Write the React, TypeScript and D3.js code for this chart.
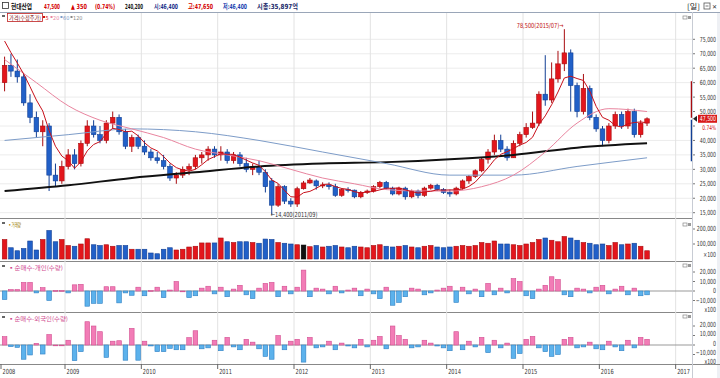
import React, { useEffect } from 'react';
import * as d3 from 'd3';

// ---------- DATA ----------
const startYear = 2008;
const startMonth = 3; // first candle: 2008-03, monthly candles
const years = [2008, 2009, 2010, 2011, 2012, 2013, 2014, 2015, 2016, 2017];

const opens = [60000, 66000, 64000, 62000, 53000, 48000, 43000, 45000, 28000, 26000,
  31000, 35000, 32000, 39000, 45000, 42000, 40000, 46000, 48000, 43000, 38000, 41000,
  38000, 36000, 34000, 33000, 31000, 27000, 28000, 30000, 31000, 34000, 35000, 37000,
  35000, 36000, 33000, 35000, 32000, 30000, 31000, 29000, 26000, 17600, 24000, 19000,
  18000, 23300, 25300, 26000, 24300, 24600, 24000, 21000, 23000, 22800, 20500, 22000,
  22500, 24000, 25500, 23500, 21500, 23500, 20500, 22500, 21000, 23500, 24500, 23000,
  22000, 21500, 23500, 26000, 27500, 29500, 33500, 36000, 40000, 37000, 34000, 39000,
  42000, 44500, 46000, 56000, 54000, 61300, 66500, 70300, 59000, 50000, 58000, 48000,
  44000, 40000, 45000, 49000, 45000, 50000, 42000, 46000];
const highs = [69000, 70000, 68000, 63000, 56000, 50000, 47000, 46000, 32000, 33000,
  37000, 37000, 40000, 47000, 47000, 45000, 47000, 50000, 49000, 44000, 42000, 42000,
  40000, 37000, 36000, 35000, 32000, 29000, 31000, 32000, 35000, 36000, 38000, 38000,
  38000, 37000, 36000, 36000, 34000, 32000, 33000, 30000, 27000, 25000, 24500, 20000,
  24000, 26000, 27000, 26500, 25500, 25500, 25000, 23500, 23800, 23000, 22500, 23000,
  24500, 26000, 26000, 24000, 24000, 24000, 23000, 23000, 24000, 25000, 25000, 23500,
  23000, 24000, 26500, 28000, 30000, 34000, 37000, 42000, 42000, 38000, 40000, 43000,
  46000, 50000, 57000, 69500, 67000, 71000, 78500, 71500, 60000, 63000, 59000, 49000,
  45000, 46000, 50000, 50000, 51000, 51000, 47000, 48000];
const lows = [57000, 62000, 60000, 52000, 46000, 41000, 38000, 22500, 24000, 25000,
  30000, 30000, 31000, 38000, 41000, 39000, 39000, 44000, 42000, 37000, 36000, 37000,
  35000, 33000, 32000, 30000, 26000, 25000, 27000, 28000, 30000, 32000, 33000, 34000,
  33000, 32000, 32000, 31000, 29000, 28000, 28000, 22000, 14400, 17000, 18000, 17000,
  17000, 23000, 25000, 23000, 23500, 23000, 20500, 20500, 22000, 20000, 20000, 21500,
  22000, 23500, 23000, 21000, 21000, 19500, 20000, 20000, 20500, 23000, 22500, 21500,
  20500, 21000, 23000, 25000, 27000, 29000, 32000, 35000, 36000, 33000, 34000, 38000,
  41000, 44000, 45000, 52000, 53000, 60000, 64000, 50000, 48000, 49000, 47000, 43000,
  38000, 39000, 44000, 44000, 44000, 41000, 41000, 45000];
const closes = [66000, 64000, 62000, 53000, 48000, 43000, 45000, 28000, 26000, 31000,
  35000, 32000, 39000, 45000, 42000, 40000, 46000, 48000, 43000, 38000, 41000, 38000,
  36000, 34000, 33000, 31000, 27000, 28000, 30000, 31000, 34000, 35000, 37000, 35000,
  36000, 33000, 35000, 32000, 30000, 31000, 29000, 24000, 17600, 24000, 19000, 18000,
  23300, 25300, 26300, 24300, 24600, 24000, 21000, 23000, 22800, 20500, 22000, 22500,
  24000, 25500, 23500, 21500, 23500, 20500, 22500, 21000, 23500, 24500, 23000, 22000,
  21500, 23500, 26000, 27500, 29500, 33500, 36000, 40000, 37000, 34000, 39000, 42000,
  44500, 46000, 56000, 54000, 61300, 66500, 70300, 59000, 50000, 58000, 48000, 44000,
  40000, 45000, 49000, 45000, 50000, 42000, 46000, 47500];
const volumes = [130000, 75000, 55000, 70000, 120000, 60000, 130000, 190000, 115000, 130000,
  90000, 85000, 100000, 135000, 95000, 90000, 95000, 85000, 90000, 90000, 65000, 65000,
  65000, 40000, 35000, 65000, 75000, 60000, 65000, 80000, 85000, 107000, 107000, 107000,
  140000, 115000, 110000, 115000, 115000, 110000, 105000, 133000, 130000, 110000, 105000, 100000,
  95000, 93000, 82000, 90000, 80000, 85000, 90000, 80000, 75000, 85000, 80000, 75000,
  90000, 95000, 85000, 80000, 85000, 90000, 80000, 75000, 85000, 90000, 80000, 75000,
  80000, 85000, 90000, 85000, 90000, 110000, 105000, 120000, 100000, 100000, 95000, 90000,
  100000, 110000, 130000, 140000, 125000, 115000, 150000, 140000, 125000, 110000, 105000, 95000,
  100000, 90000, 110000, 95000, 100000, 105000, 85000, 55000];
const blackVolumeIndex = [47];
const individualNet = [-9000, 1500, 1500, 9000, 9000, -2000, 3500, -10000, 500, 500,
  -2000, 6500, 7000, -16000, -13000, -13000, 4500, 4500, -12500, -2000, -4500, 4000,
  -5000, 500, 4000, -7000, 1000, 10000, 0, -7000, -5000, 3000, 5000, -3000,
  4000, -6000, 2000, 6000, -4000, -8000, 3000, 8000, 9000, -6000, 5000, -3000,
  4000, 22000, -6000, 3000, 2000, -3000, 5000, -2000, 1000, 3000, -5000, 2000,
  -3000, -8000, 4000, -15000, -12000, -6000, 3000, 2000, -4000, -2000, 1000, 3000,
  5000, -12000, 4000, -3000, 2000, -6000, 8000, -4000, 3000, -2000, 13000, 10000,
  -5000, -8000, 2000, 6000, 15000, 12000, -4000, -6000, 3000, 2000, -2000, 4000,
  6000, -3000, 2000, 5000, -4000, 3000, -5000, -4000];
const foreignNet = [8800, -1700, -2500, -15000, -10500, 1700, -9500, 11000, 0, 0,
  5000, -16500, -7000, 24500, 20000, 14000, -13000, 4000, 4500, -16000, 17500, -16000,
  4000, -1000, -7000, -7000, -3500, -5000, -5000, 7700, 15000, -4000, -3000, 5000,
  -6000, 8000, -2000, -5000, 6000, 3000, -4000, -12000, -15000, 10000, -5000, 4000,
  6000, -18000, 8000, -3000, -2000, 4000, -5000, 2000, -1000, -3000, 6000, -2000,
  5000, 9000, -4000, 20000, 10000, 6000, -3000, -2000, 5000, 2000, -1000, -3000,
  -6000, 14000, -5000, 4000, -2000, 8000, -8000, 5000, -3000, 2000, -14000, -9000,
  6000, 9000, -3000, -7000, -12000, -10000, 6000, 8000, -3000, -2000, 3000, -4000,
  -5000, 4000, -2000, -6000, 5000, -3000, 8000, 6000];
// closes of the four months before the first visible candle (for the 5-month average)
const priorCloses = [84000, 80000, 72000, 70000];
// longer moving averages (month index, price)
const ma20Index = [0, 5, 10, 15, 20, 25, 30, 35, 40, 45, 50, 55, 60, 65, 70, 75, 80, 85, 90, 95, 101];
const ma20Value = [68000, 60000, 52000, 47000, 44000, 41000, 37000, 35000, 33000, 30000, 27000, 25000, 23000, 22500, 22500, 24000, 28000, 36000, 46000, 51000, 50000];
const ma60Index = [0, 10, 20, 30, 40, 50, 60, 70, 80, 90, 101];
const ma60Value = [40000, 42000, 44000, 43000, 40000, 36000, 32000, 28000, 28000, 31000, 34000];
const ma120Index = [0, 10, 20, 30, 40, 50, 60, 70, 80, 90, 101];
const ma120Value = [22500, 24500, 27000, 29000, 31000, 32000, 32500, 33500, 35000, 37500, 39000];

const priceTicks = [15000, 20000, 25000, 30000, 35000, 40000, 45000, 50000, 55000, 60000, 65000, 70000, 75000];
const volumeTicks = [100000, 200000];
const netTicks = [-10000, 0, 10000, 20000];

const headerItems = [
  { t: '현대산업', x: 11, w: 21, c: '#111' },
  { t: '47,500', x: 44, w: 16, c: '#d40000' },
  { t: '▲ 350', x: 71, w: 16, c: '#d40000' },
  { t: '(0.74%)', x: 95, w: 20, c: '#d40000' },
  { t: '240,200', x: 125, w: 18, c: '#111' },
  { t: '시:46,400', x: 154, w: 24, c: '#1a2f8a' },
  { t: '고:47,650', x: 188, w: 25, c: '#d40000' },
  { t: '저:46,400', x: 223, w: 24, c: '#1a3fb0' },
  { t: '시총:35,897억', x: 257, w: 41, c: '#1a2a6a' },
];
const maLegend = [
  { t: '5', x: 43, c: '#d01010' },
  { t: '20', x: 50.5, c: '#e9859f' },
  { t: '60', x: 60.5, c: '#7d9cc8' },
  { t: '120', x: 70.5, c: '#888' },
];
const peakLabel = '78,500(2015/07)→';
const lowLabel = '←14,400(2011/09)';
const peakIndex = 88;
const lowIndex = 42;

// ---------- COLOURS ----------
const RED = '#e3161c';
const RED_D = '#a80c10';
const BLUE = '#2160c8';
const BLUE_D = '#123f94';
const PINK = '#f27cb6';
const PINK_D = '#d24d90';
const SKY = '#5cb2ec';
const SKY_D = '#2f80c4';
const FONT = '"Noto Sans CJK KR", "Noto Sans", sans-serif';
const NARROW = '"DejaVu Sans Condensed", "Noto Sans CJK KR", sans-serif';

export default function App() {
  useEffect(() => {
    document.body.style.margin = '0';
  }, []);

  const W = 720;
  const H = 378;
  const plotL = 0;
  const plotR = 692;
  const n = closes.length;
  const slot = 6.361;
  const x = d3.scaleLinear().domain([0, (plotR - 1.4) / slot]).range([1.4, plotR]);
  const xc = (i: number) => x(i + 0.5);

  // panels
  const main = { top: 13, bottom: 218 };
  const vol = { top: 218, bottom: 261 };
  const p3 = { top: 261, bottom: 312 };
  const p4 = { top: 312, bottom: 364 };

  const yP = d3.scaleLinear().domain([15000, 75000]).range([212.7, 39.3]);
  const yV = d3.scaleLinear().domain([0, 100000]).range([259, 244]);
  const y3 = d3.scaleLinear().domain([0, 10000]).range([291, 281.5]);
  const y4 = d3.scaleLinear().domain([0, 10000]).range([345, 335.5]);

  const yearStartIndex = (yr: number) => (yr - startYear) * 12 - (startMonth - 1);

  const allCloses = priorCloses.concat(closes);
  const ma5 = closes.map((_, i) => d3.mean(allCloses.slice(i, i + 5)) as number);

  const lineP = d3.line<[number, number]>().x(d => xc(d[0])).y(d => yP(d[1]));
  const lineS = d3.line<[number, number]>().x(d => xc(d[0])).y(d => yP(d[1])).curve(d3.curveMonotoneX);

  const ma5Path = lineP(ma5.map((v, i) => [i, v] as [number, number]));
  const ma20Path = lineS(ma20Index.map((v, i) => [v, ma20Value[i]] as [number, number]));
  const ma60Path = lineS(ma60Index.map((v, i) => [v, ma60Value[i]] as [number, number]));
  const ma120Path = lineS(ma120Index.map((v, i) => [v, ma120Value[i]] as [number, number]));

  const bodyW = 4.6;
  const fmt = d3.format(',');
  const labelRight = 716;

  const gridYears = years.filter(y => yearStartIndex(y) > 0);

  const renderVGrid = (top: number, bottom: number) =>
    gridYears.map(yr => (
      <line key={yr} x1={x(yearStartIndex(yr))} x2={x(yearStartIndex(yr))} y1={top} y2={bottom}
        stroke="#e2e2e2" strokeWidth={1} />
    ));

  const netBars = (vals: number[], ys: d3.ScaleLinear<number, number>) =>
    vals.map((v, i) => {
      const y0 = ys(0);
      const y1 = ys(v);
      const pos = v >= 0;
      return (
        <rect key={i} x={xc(i) - bodyW / 2} width={bodyW} y={Math.min(y0, y1)} height={Math.max(0.8, Math.abs(y1 - y0))}
          fill={pos ? PINK : SKY} stroke={pos ? PINK_D : SKY_D} strokeWidth={0.6} />
      );
    });

  // narrow bitmap-like numbers: condensed font squeezed horizontally
  const numText = (s: string, xr: number, yc: number, fill = '#333', size = 7, anchor: 'end' | 'start' = 'end', sx = 0.74) => (
    <text transform={`translate(${xr},${yc}) scale(${sx},1)`} dy="0.35em" textAnchor={anchor}
      fontFamily={NARROW} fontSize={size} fill={fill}>{s}</text>
  );

  const rightAxis = (ticks: number[], ys: d3.ScaleLinear<number, number>, top: number, bottom: number,
    labelOffset: number, unit?: string, unitY?: number, skip: number[] = []) => (
    <g>
      <line x1={plotR + 0.5} x2={plotR + 0.5} y1={top + 2} y2={bottom - 2} stroke="#777" strokeDasharray="1,2" />
      {ticks.map(t => (
        <g key={t}>
          <line x1={plotR} x2={plotR + 3} y1={ys(t)} y2={ys(t)} stroke="#777" />
          {!skip.includes(t) && numText(fmt(t), labelRight, ys(t) + labelOffset)}
        </g>
      ))}
      {unit && unitY !== undefined && numText(unit, labelRight, unitY)}
    </g>
  );

  const panelIcon = (yTop: number) => (
    <g>
      <rect x={683} y={yTop + 2} width={4} height={3} fill="none" stroke="#888" strokeWidth={0.7} />
      <rect x={688} y={yTop + 2} width={3} height={3} fill="#999" />
    </g>
  );

  const lastY = yP(closes[n - 1]);

  return (
    <svg width={W} height={H} style={{ position: 'absolute', left: 0, top: 0, background: '#fff' }}
      fontFamily={FONT}>
      <rect x={0} y={0} width={W} height={H} fill="#fff" />
      <rect x={717} y={12} width={3} height={H - 12} fill="#eef0f4" />

      {/* header */}
      <line x1={0} x2={W} y1={12.5} y2={12.5} stroke="#9aa6b8" />
      <rect x={2.5} y={2.5} width={6} height={6} fill="none" stroke="#333" strokeWidth={0.8} />
      {headerItems.map(h => (
        <text key={h.t} x={h.x} y={9} fontFamily={NARROW} fontSize={7} fontWeight="bold" fill={h.c}
          textLength={h.w} lengthAdjust="spacingAndGlyphs">{h.t}</text>
      ))}
      <text x={687} y={9} fontSize={7} fill="#222" textLength={13} lengthAdjust="spacingAndGlyphs">[일]</text>
      <rect x={704} y={3} width={6} height={6} fill="none" stroke="#555" strokeWidth={0.8} />
      <line x1={705.5} x2={708.5} y1={6} y2={6} stroke="#555" strokeWidth={0.8} />
      <text x={711.5} y={9} fontSize={6} fill="#333">✕</text>

      <defs>
        <clipPath id="clipMain"><rect x={plotL} y={main.top} width={plotR - plotL} height={main.bottom - main.top} /></clipPath>
        <clipPath id="clipVol"><rect x={plotL} y={vol.top} width={plotR - plotL} height={vol.bottom - vol.top} /></clipPath>
        <clipPath id="clip3"><rect x={plotL} y={p3.top} width={plotR - plotL} height={p3.bottom - p3.top} /></clipPath>
        <clipPath id="clip4"><rect x={plotL} y={p4.top} width={plotR - plotL} height={p4.bottom - p4.top} /></clipPath>
      </defs>

      {/* ---- main price panel ---- */}
      {priceTicks.map(t => (
        <line key={t} x1={plotL} x2={plotR} y1={yP(t)} y2={yP(t)} stroke="#ececec" />
      ))}
      {renderVGrid(main.top, main.bottom)}
      <g clipPath="url(#clipMain)">
        {closes.map((c, i) => {
          const o = opens[i];
          const up = c >= o;
          const col = up ? RED : BLUE;
          const dark = up ? RED_D : BLUE_D;
          const top = yP(Math.max(o, c));
          const bot = yP(Math.min(o, c));
          return (
            <g key={i}>
              <line x1={xc(i)} x2={xc(i)} y1={yP(highs[i])} y2={yP(lows[i])} stroke={dark} strokeWidth={1} />
              <rect x={xc(i) - bodyW / 2} y={top} width={bodyW} height={Math.max(1, bot - top)} fill={col} stroke={dark} strokeWidth={0.6} />
            </g>
          );
        })}
        <path d={ma120Path ?? ''} fill="none" stroke="#111" strokeWidth={2} />
        <path d={ma60Path ?? ''} fill="none" stroke="#7d9cc8" strokeWidth={1} />
        <path d={ma20Path ?? ''} fill="none" stroke="#e9859f" strokeWidth={1} />
        <path d={ma5Path ?? ''} fill="none" stroke="#c8101a" strokeWidth={1} />
      </g>
      {/* annotations */}
      {numText(peakLabel, xc(peakIndex) - 1, yP(highs[peakIndex]) - 4, '#c01010', 7, 'end', 0.8)}
      {numText(lowLabel, xc(lowIndex) - 1, yP(lows[lowIndex]) + 0.5, '#333', 7, 'start', 0.8)}

      {/* main legend */}
      <rect x={2} y={15} width={3} height={2} fill="#666" />
      <rect x={7.5} y={13.5} width={35} height={8} fill="#fff" stroke="#c02020" strokeWidth={0.8} />
      <text x={9} y={20} fontSize={5.5} fill="#7a1010" textLength={32} lengthAdjust="spacingAndGlyphs">가격(수정주가)</text>
      {maLegend.map(m => (
        <g key={m.t}>
          <rect x={m.x} y={16} width={2} height={2} fill={m.c} />
          <text x={m.x + 2.5} y={20} fontFamily={NARROW} fontSize={5.5} fill={m.c}>{m.t}</text>
        </g>
      ))}

      {/* price axis */}
      {rightAxis(priceTicks, yP, main.top, main.bottom, 0, undefined, undefined, [45000])}
      <line x1={plotR - 0.5} x2={plotR - 0.5} y1={yP(60500)} y2={lastY - 1} stroke={RED_D} strokeWidth={1.5} />
      <line x1={plotR - 0.5} x2={plotR - 0.5} y1={lastY + 1} y2={yP(32800)} stroke={BLUE_D} strokeWidth={1.5} />
      <path d={`M${plotR + 1},${lastY} l4,-3 v6 z`} fill="#222" />
      <rect x={698} y={lastY - 4} width={19} height={8} fill="#d81818" />
      {numText(fmt(closes[n - 1]), labelRight, lastY, '#fff')}
      {numText('0.74%', labelRight, lastY + 8.5, '#d01010', 6.5)}
      {panelIcon(main.top + 1)}

      <line x1={0} x2={plotR} y1={main.bottom + 0.5} y2={main.bottom + 0.5} stroke="#888" />

      {/* ---- volume panel ---- */}
      {renderVGrid(vol.top, vol.bottom)}
      <g clipPath="url(#clipVol)">
        {volumes.map((v, i) => {
          const up = closes[i] >= opens[i];
          const black = blackVolumeIndex.includes(i);
          const col = black ? '#111' : up ? RED : BLUE;
          const dark = black ? '#000' : up ? RED_D : BLUE_D;
          return (
            <rect key={i} x={xc(i) - bodyW / 2} width={bodyW} y={yV(v)} height={yV(0) - yV(v)} fill={col} stroke={dark} strokeWidth={0.6} />
          );
        })}
      </g>
      <rect x={2} y={vol.top + 4} width={3} height={2} fill="#666" />
      <text x={8} y={vol.top + 9} fontSize={6} fill="#9a7a00" textLength={13} lengthAdjust="spacingAndGlyphs">▪거래량</text>
      {rightAxis(volumeTicks, yV, vol.top, vol.bottom, 0, '×100', 254.5)}
      {panelIcon(vol.top + 3)}
      <line x1={0} x2={plotR} y1={vol.bottom + 0.5} y2={vol.bottom + 0.5} stroke="#888" />

      {/* ---- individual net buying ---- */}
      {renderVGrid(p3.top, p3.bottom)}
      <line x1={0} x2={plotR} y1={y3(0)} y2={y3(0)} stroke="#999" />
      <g clipPath="url(#clip3)">{netBars(individualNet, y3)}</g>
      <rect x={2} y={p3.top + 4} width={3} height={2} fill="#666" />
      <text x={8} y={p3.top + 9} fontSize={6} fill="#d04a90" textLength={55} lengthAdjust="spacingAndGlyphs">▪순매수-개인(수량)</text>
      {rightAxis(netTicks, y3, p3.top, p3.bottom, 0, 'x100', 309.5)}
      {panelIcon(p3.top + 1)}
      <line x1={0} x2={plotR} y1={p3.bottom + 0.5} y2={p3.bottom + 0.5} stroke="#888" />

      {/* ---- foreign net buying ---- */}
      {renderVGrid(p4.top, p4.bottom)}
      <line x1={0} x2={plotR} y1={y4(0)} y2={y4(0)} stroke="#999" />
      <g clipPath="url(#clip4)">{netBars(foreignNet, y4)}</g>
      <rect x={2} y={p4.top + 4} width={3} height={2} fill="#666" />
      <text x={8} y={p4.top + 9} fontSize={6} fill="#d04a90" textLength={60} lengthAdjust="spacingAndGlyphs">▪순매수-외국인(수량)</text>
      {rightAxis(netTicks, y4, p4.top, p4.bottom, -1.5, 'x100', 362)}
      {panelIcon(p4.top + 1)}
      <line x1={0} x2={W} y1={p4.bottom + 0.5} y2={p4.bottom + 0.5} stroke="#888" />

      {/* ---- x axis ---- */}
      {years.map(yr => {
        const xx = yearStartIndex(yr) <= 0 ? 1 : x(yearStartIndex(yr));
        return (
          <g key={yr}>
            <line x1={xx} x2={xx} y1={p4.bottom} y2={p4.bottom + 5} stroke="#666" />
            {numText(String(yr), xx + 1.5, 371.5, '#333', 7, 'start', 0.8)}
          </g>
        );
      })}
      <line x1={plotR + 0.5} x2={plotR + 0.5} y1={12} y2={H} stroke="#c8ccd4" />
    </svg>
  );
}
